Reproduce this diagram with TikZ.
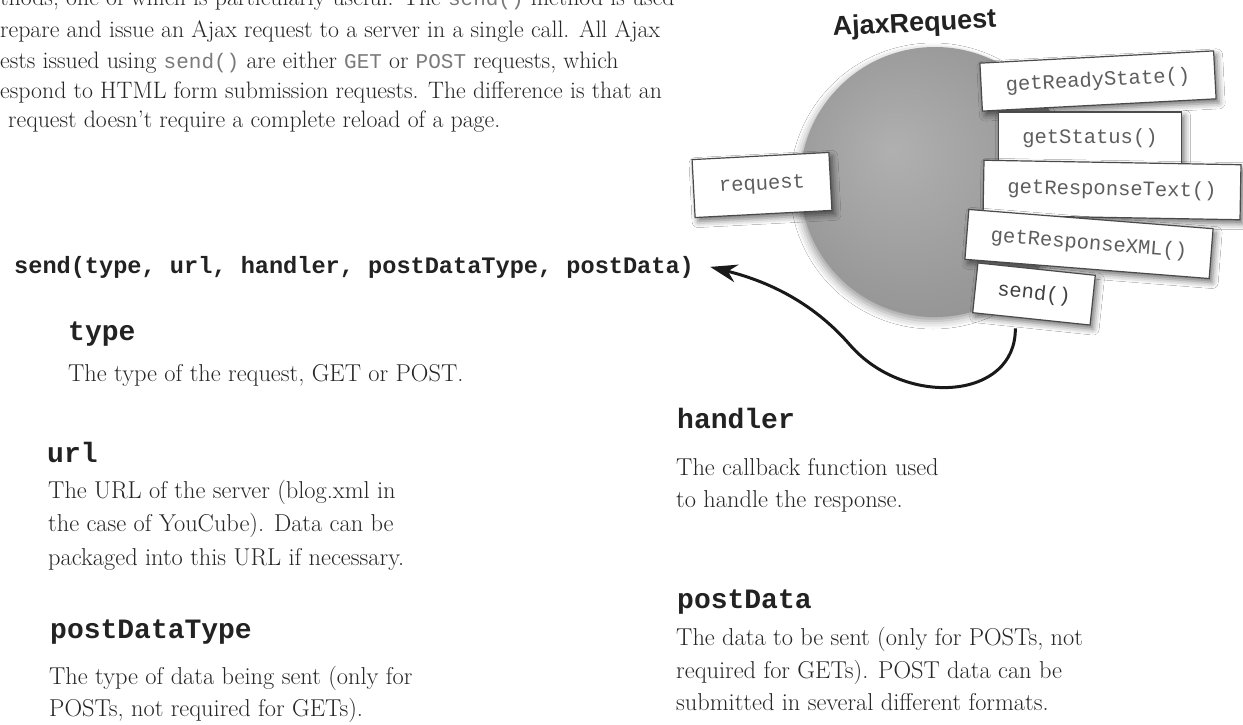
\documentclass[tikz,border=0pt]{standalone}
\usepackage{fontspec}
\setmonofont{Liberation Mono}
\newfontfamily\titlefont{Liberation Sans}
\usetikzlibrary{shadows.blur,arrows.meta,calc}
\definecolor{txt}{HTML}{262626}
\definecolor{headc}{HTML}{222222}
\definecolor{boxline}{HTML}{4A4A4A}
\definecolor{boxtxt}{HTML}{5E5E5E}
\definecolor{ttgray}{HTML}{7A7A7A}
\definecolor{ballin}{HTML}{B0B0B0}
\definecolor{ballmid}{HTML}{999999}
\definecolor{ballout}{HTML}{626262}
\pgfdeclareradialshading{ajaxball}{\pgfpoint{-8bp}{6bp}}{color(0bp)=(ballin); color(24bp)=(ballmid); color(43bp)=(ballmid!75!ballout); color(50bp)=(ballout)}
\newcommand{\mytt}[1]{{\ttfamily\fontsize{21}{30}\selectfont\color{ttgray}#1}}
\begin{document}
\begin{tikzpicture}[x=1pt,y=-1pt,
  toptext/.style={anchor=base west, inner sep=0pt, text=txt, font=\fontsize{23.8}{30}\selectfont},
  desc/.style={anchor=base west, inner sep=0pt, text=txt, font=\fontsize{24.4}{33}\selectfont},
  head/.style={anchor=base west, inner sep=0pt, text=headc, font=\ttfamily\bfseries\fontsize{28}{30}\selectfont},
  sendsig/.style={anchor=base west, inner sep=0pt, text=headc, font=\ttfamily\bfseries\fontsize{23.6}{26}\selectfont},
  title/.style={anchor=base west, inner sep=0pt, text=headc, font=\titlefont\bfseries\fontsize{27}{30}\selectfont},
  mbox/.style={draw=boxline, line width=1.2pt, fill=white, inner sep=0pt, text=boxtxt,
    font=\ttfamily\fontsize{20.5}{22}\selectfont,
    blur shadow={shadow xshift=3pt, shadow yshift=-4pt, shadow blur radius=6pt, shadow opacity=55}},
  conn/.style={line width=3pt, draw=black!90, -{Stealth[length=27pt,width=18pt]}}
]
\clip (0,0) rectangle (1243,725);
\fill[white] (0,0) rectangle (1243,725);

% top paragraph
\node[toptext] (p1) at (0,6) {thods, one of which is particularly useful. The \mytt{send()} method is used};
\node[toptext] (p2) at (0,37.5) {repare and issue an Ajax request to a server in a single call. All Ajax};
\node[toptext] (p3) at (0,69) {ests issued using \mytt{send()} are either \mytt{GET} or \mytt{POST} requests, which};
\node[toptext] (p4) at (0,99) {espond to HTML form submission requests. The difference is that an};
\node[toptext] (p5) at (8,128) {request doesn’t require a complete reload of a page.};

% object diagram
\node[title, rotate=3] (title) at (833,36) {AjaxRequest};
\node[circle, minimum size=270pt, inner sep=0pt, shade, shading=ajaxball,
  blur shadow={shadow xshift=-2pt, shadow yshift=-4pt, shadow blur radius=8pt, shadow opacity=40}] (ball) at (935,182) {};
\node[mbox, minimum width=137pt, minimum height=58pt, rotate=3] (req) at (762,185) {request};
\node[mbox, minimum width=234pt, minimum height=48pt, rotate=3] (grs) at (1098,81) {getReadyState()};
\node[mbox, minimum width=183pt, minimum height=52pt] (gst) at (1090,138) {getStatus()};
\node[mbox, minimum width=257pt, minimum height=55pt, rotate=-1] (grt) at (1112,190) {getResponseText()};
\node[mbox, minimum width=245pt, minimum height=50pt, rotate=-4.5] (grx) at (1089,244) {getResponseXML()};
\node[mbox, minimum width=118pt, minimum height=50pt, rotate=-6, text=black!75] (snd) at (1034,294) {send()};

% signature
\node[sendsig] (sig) at (14,273) {send(type, url, handler, postDataType, postData)};
\draw[conn] ($(snd.south)+(-16,9)$) .. controls (1016,400) and (905,408) .. (850,345)
  .. controls (817,307) and (775,283) .. ($(sig.east)+(16,0)$);

% left column
\node[head] (htype) at (68,340) {type};
\node[desc] (dtype) at (68,381) {The type of the request, GET or POST.};
\node[head] (hurl) at (47,462) {url};
\node[desc] (durl1) at (48,498) {The URL of the server (blog.xml in};
\node[desc] (durl2) at (48,531) {the case of YouCube). Data can be};
\node[desc] (durl3) at (48,565) {packaged into this URL if necessary.};
\node[head] (hpdt) at (50,638) {postDataType};
\node[desc] (dpdt1) at (49,684) {The type of data being sent (only for};
\node[desc] (dpdt2) at (49,716) {POSTs, not required for GETs).};

% right column
\node[head] (hhandler) at (677,428) {handler};
\node[desc] (dh1) at (676,475) {The callback function used};
\node[desc] (dh2) at (676,507) {to handle the response.};
\node[head] (hpd) at (677,608) {postData};
\node[desc] (dpd1) at (676,645) {The data to be sent (only for POSTs, not};
\node[desc] (dpd2) at (676,678) {required for GETs). POST data can be};
\node[desc] (dpd3) at (676,710) {submitted in several different formats.};
\end{tikzpicture}
\end{document}
